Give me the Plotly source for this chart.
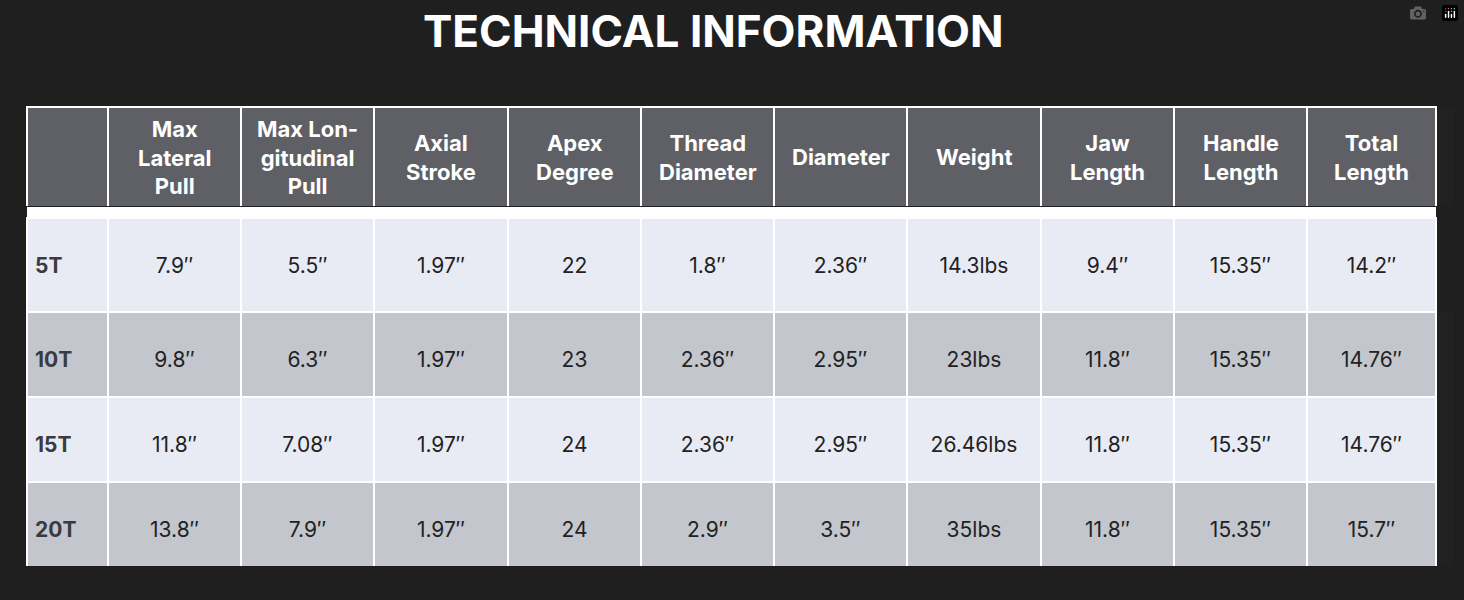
import plotly.graph_objects as go

headers = ["", "Max<br>Lateral<br>Pull", "Max Lon-<br>gitudinal<br>Pull", "Axial<br>Stroke", "Apex<br>Degree",
           "Thread<br>Diameter", "Diameter", "Weight", "Jaw<br>Length", "Handle<br>Length", "Total<br>Length"]
models = ["5T", "10T", "15T", "20T"]
lateral = ["7.9″", "9.8″", "11.8″", "13.8″"]
longit = ["5.5″", "6.3″", "7.08″", "7.9″"]
stroke = ["1.97″", "1.97″", "1.97″", "1.97″"]
apex = ["22", "23", "24", "24"]
thread = ["1.8″", "2.36″", "2.36″", "2.9″"]
diameter = ["2.36″", "2.95″", "2.95″", "3.5″"]
weight = ["14.3lbs", "23lbs", "26.46lbs", "35lbs"]
jaw = ["9.4″", "11.8″", "11.8″", "11.8″"]
handle = ["15.35″", "15.35″", "15.35″", "15.35″"]
total = ["14.2″", "14.76″", "14.76″", "15.7″"]

cols = [models, lateral, longit, stroke, apex, thread, diameter, weight, jaw, handle, total]
widths = [81, 133, 133, 134, 133, 133, 133, 134, 133, 133, 129]
F = "Inter"
light, dark = "#e9ebf4", "#c4c6cd"
X0, X1 = 27, 1436

def v(s, first):
    return "<b>" + s + "</b>" if first else s

fig = go.Figure()
# header band (empty table cells, labels as centred annotations)
fig.add_trace(go.Table(
    domain=dict(x=[X0/1464, X1/1464], y=[1-207/600, 1-107/600]),
    columnwidth=widths,
    header=dict(values=[""]*11, height=100, fill_color="#5f6066",
                line=dict(color="white", width=2)),
    cells=dict(values=[[] for _ in headers], height=0),
))
tot = sum(widths)
acc = 0
for h, w in zip(headers, widths):
    cx = X0 + (X1 - X0) * (acc + w/2) / tot
    acc += w
    if h:
        fig.add_annotation(text="<b>%s</b>" % h, x=cx/1464, y=1-157/600, xref="paper", yref="paper",
                           showarrow=False, xanchor="center", yanchor="middle", align="center",
                           font=dict(family=F, size=22, color="white"))

first = [v(c[0], i == 0) for i, c in enumerate(cols)]
rest = [[v(x, i == 0) for x in c[1:]] for i, c in enumerate(cols)]
al = ["left"] + ["center"]*10
fig.add_trace(go.Table(
    domain=dict(x=[X0/1464, X1/1464], y=[1-566/600, 1-218/600]),
    columnwidth=widths,
    header=dict(values=["&nbsp;<br>" + s for s in first], height=94, fill_color=light,
                line=dict(color="white", width=2), align=al,
                font=dict(family=F, size=21, color=["#3a3b40"] + ["#222"]*10)),
    cells=dict(values=[["&nbsp;<br>" + s for s in c] for c in rest], height=85,
               fill_color=[[dark, light, dark]],
               line=dict(color="white", width=2), align=al,
               font=dict(family=F, size=21, color=["#3a3b40"] + ["#222"]*10)),
))
fig.add_annotation(text="<b>TECHNICAL INFORMATION</b>", x=713/1464, y=1-31/600, xref="paper", yref="paper",
                   showarrow=False, yanchor="middle", font=dict(family=F, size=44, color="white"))
fig.add_shape(type="rect", xref="paper", yref="paper", x0=X0/1464, x1=X1/1464, y0=1-218/600, y1=1-207/600,
              fillcolor="white", line_width=0, layer="below")
fig.update_layout(width=1464, height=600, margin=dict(l=0, r=0, t=0, b=0),
                  paper_bgcolor="#1f1f20", plot_bgcolor="#1f1f20")
fig.write_html("out.html", post_script="document.body.style.margin='0';document.body.style.background='#1f1f20';")
